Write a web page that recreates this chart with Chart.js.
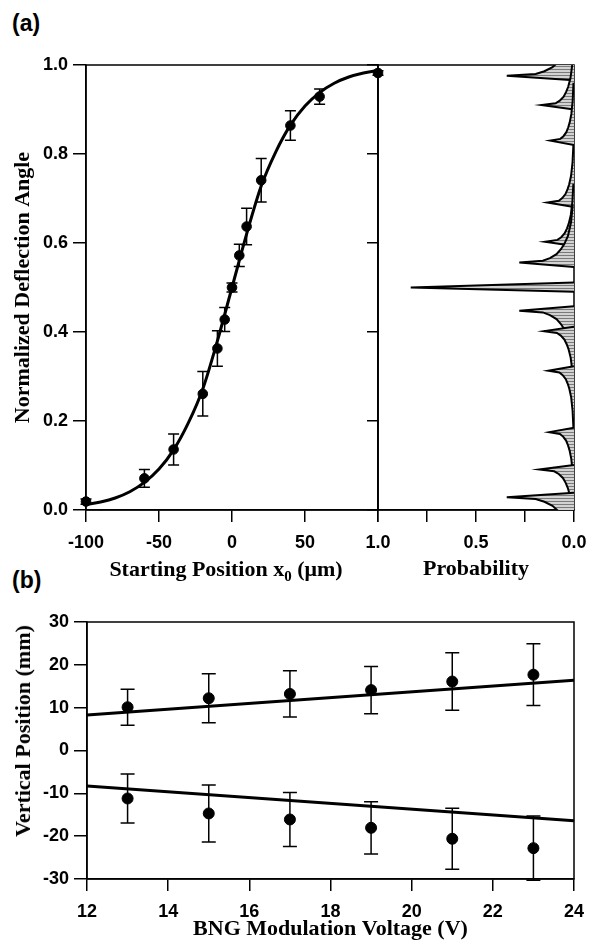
<!DOCTYPE html>
<html lang="en">
<head>
<meta charset="UTF-8">
<title>Deflection angle and vertical position</title>
<script src="https://cdn.jsdelivr.net/npm/chart.js"></script>
<style>
    body { margin: 0; background: #fff; width: 589px; height: 945px; position: relative; overflow: hidden; }
    canvas { position: absolute; }
    .lbl { position: absolute; white-space: nowrap; color: #000; }
    .panel { font: bold 23px 'Liberation Sans', Arial, sans-serif; line-height: 23px; }
    .ttl { font: bold 22px 'Liberation Serif', 'Times New Roman', serif; line-height: 22px; }
    .ttl sub { font-size: 15px; vertical-align: -5px; line-height: 0; }
</style>
</head>
<body>

<div class="lbl panel" style="left:12px; top:12px;">(a)</div>
<div class="lbl panel" style="left:12px; top:569px;">(b)</div>

<canvas id="chartA" width="400" height="590" style="left:0; top:0;"></canvas>
<canvas id="chartP" width="229" height="590" style="left:360px; top:0;"></canvas>
<canvas id="chartB" width="589" height="355" style="left:0; top:590px;"></canvas>

<div class="lbl ttl" style="left:226px; top:558px; transform: translateX(-50%);">Starting Position x<sub>0</sub> (μm)</div>
<div class="lbl ttl" style="left:23px; top:731px; transform: translate(-50%, -50%) rotate(-90deg);">Vertical Position (mm)</div>

<script>
    // (a) measured deflection vs starting position
    const startPos = [-100, -60, -40, -20, -10, -5, 0, 5, 10, 20, 40, 60, 100];
    const deflection = [0.019, 0.071, 0.136, 0.261, 0.363, 0.428, 0.500, 0.572, 0.637, 0.741, 0.864, 0.929, 0.982];
    const deflectionErr = [0.006, 0.020, 0.035, 0.050, 0.040, 0.027, 0.010, 0.025, 0.041, 0.049, 0.033, 0.017, 0.005];

    // (a) fitted curve
    const fitPos = [-100, -90, -80, -70, -60, -50, -40, -30, -20, -10, 0, 10, 20, 30, 40, 50, 60, 70, 80, 90, 100];
    const fitDeflection = [0.012, 0.018, 0.027, 0.041, 0.062, 0.092, 0.135, 0.195, 0.272, 0.380, 0.500,
        0.620, 0.728, 0.805, 0.865, 0.908, 0.938, 0.959, 0.973, 0.982, 0.988];

    // (a) probability peaks: where each one sits and how far it reaches
    const peakAt = [0.0285, 0.091, 0.175, 0.313, 0.402, 0.448, 0.556, 0.603, 0.691, 0.830, 0.910, 0.976];
    const peakHeight = [0.343, 0.177, 0.126, 0.131, 0.153, 0.279, 0.279, 0.148, 0.136, 0.122, 0.165, 0.343];
    // shape of one peak: offset away from the middle, and share of the peak height
    const tailOffset = [-0.010, 0, 0.004, 0.010, 0.019, 0.030, 0.041, 0.060, 0.090, 0.130];
    const tailShare = [0, 1, 0.57, 0.44, 0.32, 0.24, 0.18, 0.11, 0.055, 0.022];
    // the narrow spike in the middle
    const spikeAt = [0.4905, 0.500, 0.511];
    const spikeHeight = [0, 0.833, 0];

    // (b) vertical position vs modulation voltage
    const voltage = [13, 15, 17, 19, 21, 23];
    const upperPos = [10.1, 12.2, 13.2, 14.1, 16.1, 17.7];
    const upperErr = [4.2, 5.7, 5.4, 5.5, 6.7, 7.2];
    const lowerPos = [-11.2, -14.7, -16.1, -18.05, -20.6, -22.8];
    const lowerErr = [5.7, 6.65, 6.3, 6.1, 7.1, 7.5];
    const lineVoltage = [12, 24];
    const upperLine = [8.3, 16.4];
    const lowerLine = [-8.3, -16.4];

    Chart.defaults.font.family = "'Liberation Sans', Arial, sans-serif";
    Chart.defaults.font.size = 18;
    Chart.defaults.font.weight = 'bold';
    Chart.defaults.color = '#000';

    const serifTitle = { family: "'Liberation Serif', 'Times New Roman', serif", size: 22, weight: 'bold' };

    function pairs(xs, ys) {
        return xs.map((x, i) => ({ x: x, y: ys[i] }));
    }

    // fixed axis sizes, and no extra room for labels hanging over the ends
    function fixX(h) {
        return s => { s.height = h; s.paddingLeft = 0; s.paddingRight = 0; };
    }
    function fixY(w) {
        return s => { s.width = w; s.paddingTop = 0; s.paddingBottom = 0; };
    }

    // vertical error bars with caps, drawn through the chart's own scales
    const errorBars = {
        id: 'errorBars',
        beforeDatasetsDraw(chart) {
            const ctx = chart.ctx;
            const xs = chart.scales.x, ys = chart.scales.y;
            chart.data.datasets.forEach((ds) => {
                if (!ds.errors) return;
                ctx.save();
                ctx.strokeStyle = '#000';
                ctx.lineWidth = 1.5;
                ds.data.forEach((p, j) => {
                    const px = xs.getPixelForValue(p.x);
                    const top = ys.getPixelForValue(p.y + ds.errors[j]);
                    const bot = ys.getPixelForValue(p.y - ds.errors[j]);
                    const w = ds.capWidth;
                    ctx.beginPath();
                    ctx.moveTo(px, top); ctx.lineTo(px, bot);
                    ctx.moveTo(px - w, top); ctx.lineTo(px + w, top);
                    ctx.moveTo(px - w, bot); ctx.lineTo(px + w, bot);
                    ctx.stroke();
                });
                ctx.restore();
            });
        }
    };

    // box round the plot area
    const frame = {
        id: 'frame',
        beforeDatasetsDraw(chart) {
            const a = chart.chartArea, ctx = chart.ctx;
            ctx.save();
            ctx.strokeStyle = '#000';
            ctx.lineWidth = 1.5;
            ctx.strokeRect(a.left, a.top, a.right - a.left, a.bottom - a.top);
            ctx.restore();
        }
    };

    const tickGrid = len => ({ display: true, drawOnChartArea: false, drawTicks: true, tickLength: len, color: '#000', lineWidth: 1.5 });
    const axisLine = { display: true, color: '#000', width: 1.5 };
    const noLegend = { legend: { display: false }, tooltip: { enabled: false } };

    // ---------- (a) left ----------
    new Chart(document.getElementById('chartA'), {
        type: 'scatter',
        data: {
            datasets: [{
                type: 'line',
                data: pairs(fitPos, fitDeflection),
                borderColor: '#000',
                borderWidth: 3,
                pointRadius: 0,
                tension: 0.4,
                cubicInterpolationMode: 'monotone'
            }, {
                data: pairs(startPos, deflection),
                errors: deflectionErr,
                capWidth: 5.5,
                backgroundColor: '#000',
                borderColor: '#000',
                pointRadius: 4.8,
                clip: false
            }]
        },
        options: {
            responsive: false,
            animation: false,
            layout: { padding: { top: 65, right: 22, left: 0, bottom: 0 } },
            plugins: noLegend,
            scales: {
                x: {
                    type: 'linear', min: -100, max: 100,
                    grid: tickGrid(12), border: axisLine,
                    ticks: { padding: 10, stepSize: 50, callback: v => (v === 100 ? '' : v) },
                    afterFit: fixX(80)
                },
                y: {
                    min: 0, max: 1,
                    grid: tickGrid(13), border: axisLine,
                    ticks: { padding: 5, stepSize: 0.2, callback: v => v.toFixed(1) },
                    title: { display: true, text: 'Normalized Deflection Angle', font: serifTitle, padding: { top: 10, bottom: 0 } },
                    afterFit: fixY(86)
                }
            }
        },
        plugins: [frame, errorBars]
    });

    // ---------- (a) right: probability ----------
    // grey fill with fine horizontal hatching
    function makeHatch() {
        const c = document.createElement('canvas');
        c.width = 4; c.height = 3;
        const g = c.getContext('2d');
        g.fillStyle = '#d2d2d2';
        g.fillRect(0, 0, 4, 3);
        g.fillStyle = '#7a7a7a';
        g.fillRect(0, 0, 4, 1);
        return g.createPattern(c, 'repeat');
    }
    const hatch = makeHatch();

    const peakSets = peakAt.map((y0, i) => {
        const dir = y0 > 0.5 ? 1 : -1;
        let pts = tailOffset.map((d, j) => ({ x: peakHeight[i] * tailShare[j], y: y0 + dir * d }));
        if (dir < 0) pts = pts.reverse();
        return pts;
    });
    peakSets.push(pairs(spikeHeight, spikeAt));

    new Chart(document.getElementById('chartP'), {
        type: 'line',
        data: {
            datasets: peakSets.map(pts => ({
                data: pts,
                borderColor: '#000',
                borderWidth: 2,
                backgroundColor: hatch,
                fill: 'origin',
                pointRadius: 0,
                tension: 0,
                clip: 0
            }))
        },
        options: {
            indexAxis: 'y',
            responsive: false,
            animation: false,
            layout: { padding: { top: 65, right: 15, left: 0, bottom: 0 } },
            plugins: noLegend,
            scales: {
                x: {
                    type: 'linear', min: 0, max: 1, reverse: true,
                    grid: tickGrid(12), border: axisLine,
                    ticks: { padding: 10, stepSize: 0.25, callback: v => (v === 0.25 || v === 0.75 ? '' : v.toFixed(1)) },
                    title: { display: true, text: 'Probability', font: serifTitle, padding: { top: 0, bottom: 7 } },
                    afterFit: fixX(80)
                },
                y: {
                    type: 'linear', min: 0, max: 1,
                    grid: tickGrid(11), border: axisLine,
                    ticks: { display: false, stepSize: 0.2 },
                    afterFit: fixY(18)
                }
            }
        },
        plugins: [frame]
    });

    // ---------- (b) ----------
    new Chart(document.getElementById('chartB'), {
        type: 'scatter',
        data: {
            datasets: [{
                type: 'line', data: pairs(lineVoltage, upperLine),
                borderColor: '#000', borderWidth: 3, pointRadius: 0
            }, {
                type: 'line', data: pairs(lineVoltage, lowerLine),
                borderColor: '#000', borderWidth: 3, pointRadius: 0
            }, {
                data: pairs(voltage, upperPos), errors: upperErr, capWidth: 7,
                backgroundColor: '#000', borderColor: '#000', pointRadius: 5.5
            }, {
                data: pairs(voltage, lowerPos), errors: lowerErr, capWidth: 7,
                backgroundColor: '#000', borderColor: '#000', pointRadius: 5.5
            }]
        },
        options: {
            responsive: false,
            animation: false,
            layout: { padding: { top: 32, right: 15, left: 0, bottom: 0 } },
            plugins: noLegend,
            scales: {
                x: {
                    type: 'linear', min: 12, max: 24,
                    grid: tickGrid(12), border: axisLine,
                    ticks: { padding: 10, stepSize: 2 },
                    title: { display: true, text: 'BNG Modulation Voltage (V)', font: serifTitle, padding: { top: 0, bottom: 2 } },
                    afterFit: fixX(66)
                },
                y: {
                    min: -30, max: 30,
                    grid: tickGrid(13), border: axisLine,
                    ticks: { padding: 5, stepSize: 10 },
                    afterFit: fixY(87)
                }
            }
        },
        plugins: [frame, errorBars]
    });
</script>
</body>
</html>
